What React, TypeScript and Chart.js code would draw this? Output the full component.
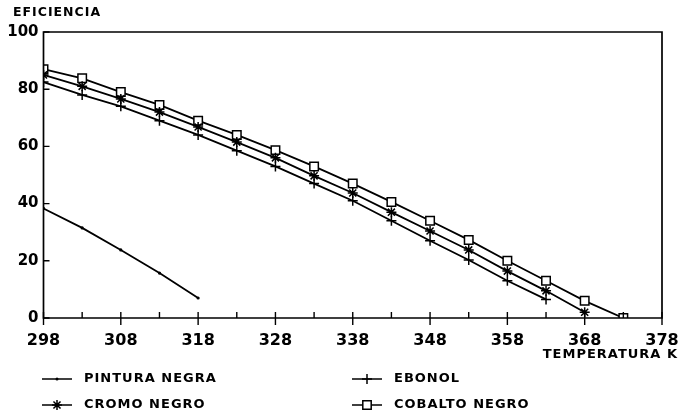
import React, { useEffect, useRef } from "react";
import { Chart, registerables } from "chart.js";

Chart.register(...registerables);

const TEMPS = [298, 303, 308, 313, 318, 323, 328, 333, 338, 343, 348, 353, 358, 363, 368, 373];
const PINTURA = [38.3, 31.5, 23.8, 15.7, 7];
const EBONOL = [82.5, 78, 74, 69, 64, 58.5, 53, 47, 41, 34, 27, 20.3, 13, 6.5];
const CROMO = [85, 81, 76.6, 72, 66.8, 61.5, 56, 49.7, 43.7, 37, 30.4, 23.8, 16.4, 9.5, 2];
const COBALTO = [87, 83.8, 79, 74.5, 69, 64, 58.7, 53, 47, 40.6, 34, 27.3, 20, 13, 6, 0];

const SERIES_NAMES = ["PINTURA NEGRA", "EBONOL", "CROMO NEGRO", "COBALTO NEGRO"];
const X_TITLE = "TEMPERATURA K";
const Y_TITLE = "EFICIENCIA";
const X_MIN = 298;
const X_MAX = 378;
const X_STEP = 10;
const X_MINOR = 5;
const Y_MIN = 0;
const Y_MAX = 100;
const Y_STEP = 20;

const FONT = "'DejaVu Sans', 'Liberation Sans', sans-serif";

function pts(vals: number[]) {
  return vals.map((v, i) => ({ x: TEMPS[i], y: v }));
}

function drawMarker(ctx: CanvasRenderingContext2D, style: string, x: number, y: number) {
  ctx.save();
  ctx.strokeStyle = "#000";
  ctx.fillStyle = "#000";
  ctx.lineWidth = 1.5;
  ctx.beginPath();
  if (style === "dot") {
    ctx.arc(x, y, 1.5, 0, Math.PI * 2);
    ctx.fill();
  } else if (style === "cross") {
    ctx.moveTo(x - 5, y);
    ctx.lineTo(x + 5, y);
    ctx.moveTo(x, y - 5);
    ctx.lineTo(x, y + 5);
    ctx.stroke();
  } else if (style === "star") {
    for (let k = 0; k < 4; k++) {
      const a = (k * Math.PI) / 4;
      ctx.moveTo(x - 5 * Math.cos(a), y - 5 * Math.sin(a));
      ctx.lineTo(x + 5 * Math.cos(a), y + 5 * Math.sin(a));
    }
    ctx.stroke();
  } else if (style === "rect") {
    ctx.fillStyle = "#fff";
    ctx.rect(x - 4.2, y - 4.2, 8.4, 8.4);
    ctx.fill();
    ctx.stroke();
  }
  ctx.restore();
}

const LEGEND_STYLES = ["dot", "cross", "star", "rect"];

const framePlugin = {
  id: "frame",
  afterDraw(chart: any) {
    const ctx: CanvasRenderingContext2D = chart.ctx;
    const { left, right, top, bottom } = chart.chartArea;
    const xs = chart.scales.x;
    const ys = chart.scales.y;
    ctx.save();
    ctx.strokeStyle = "#000";
    ctx.lineWidth = 1.7;
    ctx.beginPath();
    ctx.moveTo(left, top);
    ctx.lineTo(right, top);
    ctx.lineTo(right, bottom);
    ctx.lineTo(left, bottom);
    ctx.closePath();
    ctx.stroke();
    // x ticks
    ctx.lineWidth = 1.4;
    ctx.beginPath();
    for (let v = X_MIN; v <= X_MAX; v += X_MINOR) {
      const px = xs.getPixelForValue(v);
      const major = (v - X_MIN) % X_STEP === 0;
      ctx.moveTo(px, bottom - 6);
      ctx.lineTo(px, major ? bottom + 7 : bottom);
    }
    // y ticks
    for (let v = Y_MIN; v <= Y_MAX; v += Y_STEP) {
      const py = ys.getPixelForValue(v);
      ctx.moveTo(left, py);
      ctx.lineTo(left + 6, py);
    }
    ctx.stroke();

    // titles
    ctx.fillStyle = "#000";
    ctx.textBaseline = "middle";
    (ctx as any).letterSpacing = "1px";
    ctx.font = `bold 12.5px ${FONT}`;
    ctx.textAlign = "left";
    ctx.fillText(Y_TITLE, 13, 13);
    ctx.font = `bold 13px ${FONT}`;
    ctx.textAlign = "right";
    ctx.fillText(X_TITLE, 678, 355);

    // legend
    const cols = [42, 352];
    const rows = [379, 405];
    SERIES_NAMES.forEach((name, i) => {
      const cx = cols[i % 2];
      const cy = rows[Math.floor(i / 2)];
      ctx.save();
      ctx.lineWidth = 1.5;
      ctx.strokeStyle = "#000";
      ctx.beginPath();
      ctx.moveTo(cx, cy);
      ctx.lineTo(cx + 30, cy);
      ctx.stroke();
      ctx.restore();
      drawMarker(ctx, LEGEND_STYLES[i], cx + 15, cy);
      ctx.font = `bold 13px ${FONT}`;
      ctx.textAlign = "left";
      ctx.fillText(name, cx + 42, cy);
    });
    ctx.restore();
  },
};

export default function App() {
  const ref = useRef<HTMLCanvasElement | null>(null);
  useEffect(() => {
    document.body.style.margin = "0";
    const canvas = ref.current!;
    const common = {
      borderColor: "#000",
      borderWidth: 1.8,
      pointBorderColor: "#000",
      pointBorderWidth: 1.5,
      tension: 0,
      fill: false,
    };
    const chart = new Chart(canvas, {
      type: "line",
      data: {
        datasets: [
          { ...common, label: SERIES_NAMES[0], data: pts(PINTURA), pointStyle: "circle", pointRadius: 1.6, pointBackgroundColor: "#000", pointBorderWidth: 0 },
          { ...common, label: SERIES_NAMES[1], data: pts(EBONOL), pointStyle: "cross", pointRadius: 5, pointBackgroundColor: "#000" },
          { ...common, label: SERIES_NAMES[2], data: pts(CROMO), pointStyle: "star", pointRadius: 5, pointBackgroundColor: "#000" },
          { ...common, label: SERIES_NAMES[3], data: pts(COBALTO), pointStyle: "rect", pointRadius: 6, pointBackgroundColor: "#fff" },
        ] as any,
      },
      options: {
        animation: false,
        responsive: false,
        devicePixelRatio: 1,
        events: [],
        layout: { padding: { left: 0, right: 18, top: 32, bottom: 0 } },
        plugins: { legend: { display: false }, tooltip: { enabled: false }, title: { display: false } },
        scales: {
          x: {
            type: "linear",
            min: X_MIN,
            max: X_MAX,
            grid: { display: false, drawTicks: false },
            border: { display: false },
            ticks: { stepSize: X_STEP, padding: 13, color: "#000", font: { family: FONT, size: 16, weight: "bold" } },
            afterFit(scale: any) {
              scale.height = 97;
              scale.paddingLeft = 0;
              scale.paddingRight = 0;
            },
          },
          y: {
            min: Y_MIN,
            max: Y_MAX,
            grid: { display: false, drawTicks: false },
            border: { display: false },
            ticks: { stepSize: Y_STEP, padding: 5, color: "#000", font: { family: FONT, size: 15, weight: "bold" } },
            afterFit(scale: any) {
              scale.width = 43.5;
              scale.paddingTop = 0;
              scale.paddingBottom = 0;
            },
          },
        },
      } as any,
      plugins: [framePlugin],
    });
    return () => chart.destroy();
  }, []);
  return (
    <div style={{ width: 680, height: 415, background: "#fff" }}>
      <canvas ref={ref} width={680} height={415} style={{ width: 680, height: 415, display: "block" }} />
    </div>
  );
}
